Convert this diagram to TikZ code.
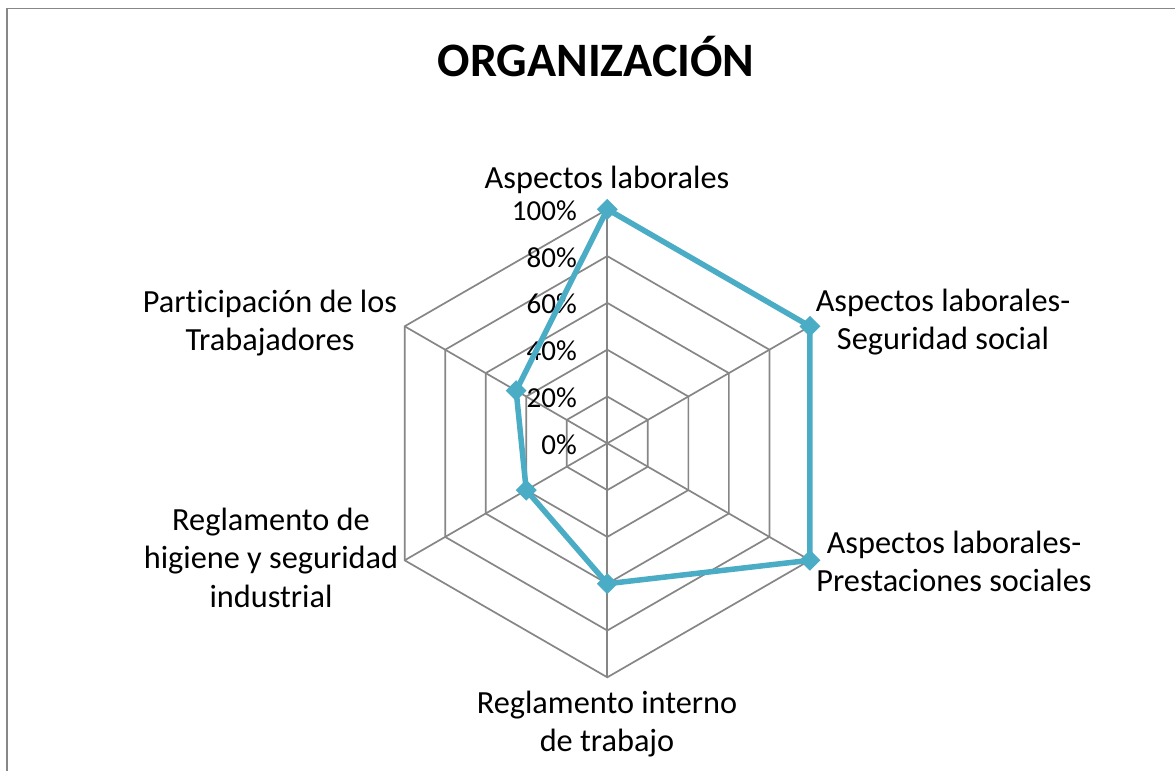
\documentclass[tikz,border=0pt]{standalone}
\usepackage{fontspec}
\setmainfont{Carlito}[Ligatures=NoCommon]
\usetikzlibrary{shapes.geometric}
\definecolor{gridc}{HTML}{868686}
\definecolor{serie}{HTML}{4BACC6}
\definecolor{framec}{HTML}{878787}
\begin{document}
\begin{tikzpicture}[x=1pt,y=1pt,
  gridline/.style={draw=gridc,line width=1.7pt},
  serieline/.style={draw=serie,line width=5.5pt,line join=round},
  mk/.style={diamond,fill=serie,inner sep=0pt,minimum size=21pt},
  lab/.style={font=\fontsize{32.3}{37}\selectfont,align=center,inner sep=0pt,anchor=base},
  pct/.style={font=\fontsize{29}{35}\selectfont,anchor=base east,inner sep=0pt},
  ttl/.style={font=\fontsize{48}{56}\selectfont\bfseries,inner sep=0pt,anchor=base}
]
\useasboundingbox (0,0) rectangle (1175,-771);
\fill[white] (0,0) rectangle (1175,-771);
\draw[framec,line width=1.8pt] (7,-771) -- (7,-8.5) -- (1175,-8.5);
\node[ttl] (title) at (596,-76) {ORGANIZACIÓN};
\begin{scope}[shift={(607.3,-443.3)}]
  \foreach \k in {1,...,5}{
    \pgfmathsetmacro\r{\k*46.8}
    \draw[gridline] (90:\r) -- (30:\r) -- (-30:\r) -- (-90:\r) -- (-150:\r) -- (150:\r) -- cycle;
  }
  \coordinate (C) at (0,0);
  \foreach \a in {90,30,-30,-90,-150,150} \draw[gridline] (C) -- (\a:234);
  \foreach \k/\t in {0/0,1/20,2/40,3/60,4/80,5/100}{
    \node[pct] (p\t) at (-30.3,\k*46.8-11) {\t\%};
  }
  \coordinate (d1) at (90:234);
  \coordinate (d2) at (30:234);
  \coordinate (d3) at (-30:234);
  \coordinate (d4) at (-90:140.4);
  \coordinate (d5) at (-150:93.6);
  \coordinate (d6) at (150:105.3);
  \draw[serieline] (d1) -- (d2) -- (d3) -- (d4) -- (d5) -- (d6) -- cycle;
  \foreach \i in {1,...,6} \node[mk] (m\i) at (d\i) {};
\end{scope}
\node[lab] (l1) at (607,-188) {Aspectos laborales};
\node[lab] (l2) at (943,-349.5) {Aspectos laborales-\\[1.5pt]Seguridad social};
\node[lab] (l3) at (954,-591.5) {Aspectos laborales-\\[1.5pt]Prestaciones sociales};
\node[lab] (l4) at (607,-751.5) {Reglamento interno\\[1.5pt]de trabajo};
\node[lab] (l5) at (271,-607) {Reglamento de\\[1.5pt]higiene y seguridad\\[1.5pt]industrial};
\node[lab] (l6) at (270,-350.5) {Participación de los\\[1.5pt]Trabajadores};
\end{tikzpicture}
\end{document}
